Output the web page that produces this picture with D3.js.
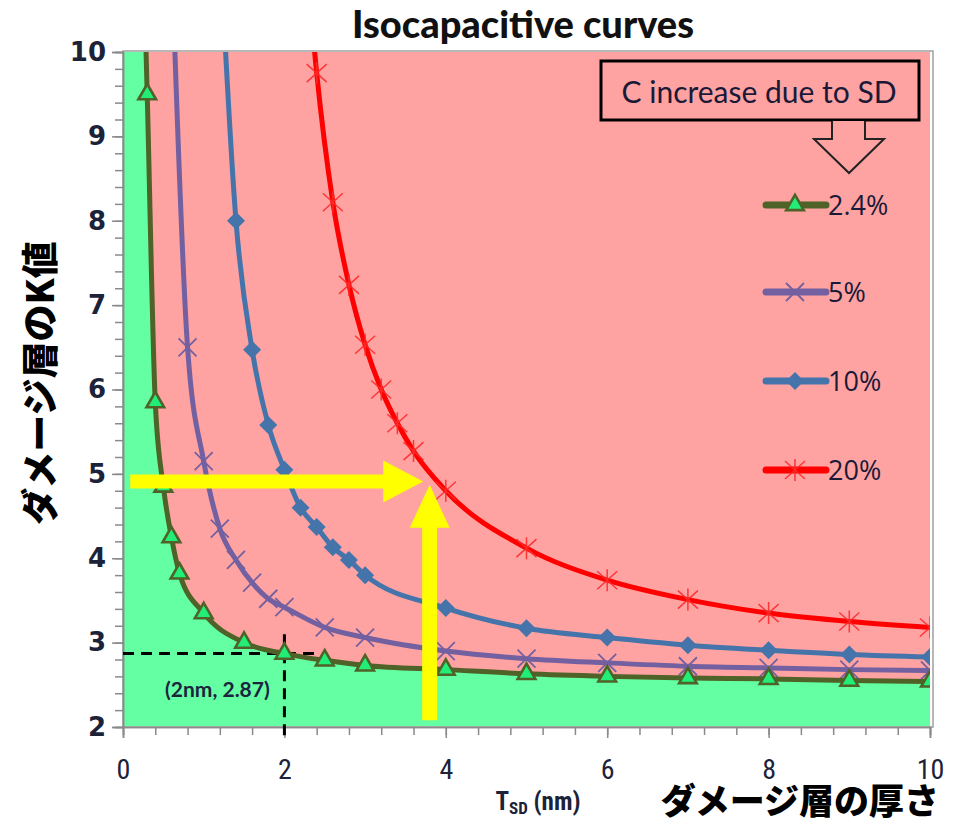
<!DOCTYPE html>
<html><head><meta charset="utf-8">
<script src="https://cdn.jsdelivr.net/npm/d3@7/dist/d3.min.js"></script>
<style>body{margin:0;background:#fff}svg{display:block}</style>
</head><body>
<svg id="c" width="966" height="825"></svg>
<script>
// ---- data ----
const tsd24 = [0.2,0.3,0.4,0.5,0.6,0.7,1,1.5,2,2.5,3,4,5,6,7,8,9,10];
const k24   = [13,9.5,5.85,4.85,4.25,3.82,3.35,3.0,2.87,2.79,2.73,2.68,2.63,2.6,2.58,2.57,2.55,2.54];
const tsd5  = [0.6,0.8,1,1.2,1.4,1.6,1.8,2,2.5,3,4,5,6,7,8,9,10];
const k5    = [11.2,6.5,5.15,4.35,3.98,3.71,3.52,3.42,3.18,3.06,2.9,2.81,2.76,2.72,2.7,2.68,2.67];
const tsd10 = [1.2,1.4,1.6,1.8,2,2.2,2.4,2.6,2.8,3,4,5,6,7,8,9,10];
const k10   = [11.3,8.0,6.47,5.58,5.05,4.6,4.37,4.13,3.98,3.8,3.41,3.17,3.06,2.97,2.91,2.86,2.83];
const tsd20 = [2.2,2.4,2.6,2.8,3,3.2,3.4,3.6,4,5,6,7,8,9,10];
const k20   = [12.0,9.75,8.22,7.24,6.53,6.0,5.6,5.27,4.8,4.12,3.74,3.51,3.35,3.25,3.18];
const seriesNames = ["2.4%","5%","10%","20%"];
const xTicks = [0,2,4,6,8,10];
const yTicks = [2,3,4,5,6,7,8,9,10];
const pointNote = {x:2, y:2.87, label:"(2nm, 2.87)"};
const arrowH = {x0:0.09, x1:3.72, y:4.91};
const arrowV = {x:3.8, y0:2.08, y1:4.87};

// ---- setup ----
const svg = d3.select("#c");
const X0=123, X1=930, Y0=727, Y1=52;
const x = d3.scaleLinear([0,10],[X0,X1]);
const y = d3.scaleLinear([2,10],[Y0,Y1]);

svg.append("defs").append("clipPath").attr("id","clip")
  .append("rect").attr("x",X0).attr("y",Y1).attr("width",X1-X0).attr("height",Y0-Y1);

const GREEN_BG="#64FFA2", PINK_BG="#FFA2A2";
svg.append("rect").attr("x",X0).attr("y",Y1).attr("width",X1-X0).attr("height",Y0-Y1-1).attr("fill",GREEN_BG);
const d24 = tsd24.map((t,i)=>[t,k24[i]]);
svg.append("path").attr("clip-path","url(#clip)")
  .datum(d24)
  .attr("fill",PINK_BG)
  .attr("d", d3.area().x(d=>x(d[0])).y0(y(10)).y1(d=>y(d[1])).curve(d3.curveMonotoneX));

svg.append("rect").attr("x",X0).attr("y",Y1-1).attr("width",X1-X0+3).attr("height",Y0-Y1+1)
  .attr("fill","none").attr("stroke","#a0a0a0").attr("stroke-width",1.5);

// axes
const tickColor="#8a8a8a";
const yMinor = svg.append("g").attr("transform",`translate(${X0},0)`)
  .call(d3.axisLeft(y).tickValues(d3.range(2,10.001,0.2)).tickSize(8).tickFormat(""));
const yMajor = svg.append("g").attr("transform",`translate(${X0},0)`)
  .call(d3.axisLeft(y).tickValues(yTicks).tickSize(11).tickPadding(6).tickFormat(d3.format("d")));
const xMinor = svg.append("g").attr("transform",`translate(0,${Y0})`)
  .call(d3.axisBottom(x).tickValues(d3.range(0,10.001,0.4)).tickSize(8).tickFormat(""));
const xMajor = svg.append("g").attr("transform",`translate(0,${Y0})`)
  .call(d3.axisBottom(x).tickValues(xTicks).tickSize(11).tickPadding(21).tickFormat(d3.format("d")));
[yMinor,yMajor,xMinor,xMajor].forEach(g=>{
  g.selectAll("path.domain").attr("stroke",tickColor).attr("stroke-width",1.5);
  g.selectAll(".tick line").attr("stroke",tickColor).attr("stroke-width",1.5);
});
yMajor.selectAll(".tick text").attr("font-family","DejaVu Sans").attr("font-weight","bold")
  .attr("font-size",26).attr("fill","#1c2238");
xMajor.selectAll(".tick text").attr("font-family","'Liberation Sans Narrow','Roboto Condensed',Roboto,sans-serif")
  .attr("font-size",28).attr("fill","#1c2238");

// dashed guide lines
svg.append("line").attr("x1",x(0)).attr("x2",x(2.4)).attr("y1",y(pointNote.y)).attr("y2",y(pointNote.y))
  .attr("stroke","#000").attr("stroke-width",3).attr("stroke-dasharray","11,7");
svg.append("line").attr("x1",x(pointNote.x)).attr("x2",x(pointNote.x)).attr("y1",y(3.1)).attr("y2",y(1.88))
  .attr("stroke","#000").attr("stroke-width",3).attr("stroke-dasharray","11,7");
svg.append("text").attr("x",x(1.17)).attr("y",y(2.36)).attr("text-anchor","middle")
  .attr("font-family","Lato").attr("font-weight","bold").attr("font-size",21).attr("fill","#1c2440")
  .text(pointNote.label);

// markers
function triangle(g,c){ g.append("path").attr("d",d3.symbol(d3.symbolTriangle,135)())
  .attr("fill","#22EE77").attr("stroke",c).attr("stroke-width",2.6); }
function cross(g,c){ g.append("path").attr("d","M-9,-9L9,9M-9,9L9,-9").attr("stroke",c).attr("stroke-width",1.8).attr("fill","none"); }
function diamond(g,c){ g.append("path").attr("d","M0,-9L9,0L0,9L-9,0Z").attr("fill",c); }
function star(g,c){ g.append("path").attr("d","M-10,-9L10,9M-10,9L10,-9M0,-11L0,11").attr("stroke","#ff2a2a").attr("stroke-width",1.5).attr("fill","none").attr("opacity",0.9); }

const series = [
  {name:seriesNames[0], t:tsd24, k:k24, color:"#4F6228", marker:triangle, mcolor:"#4F6228"},
  {name:seriesNames[1], t:tsd5,  k:k5,  color:"#7360A0", marker:cross,    mcolor:"#7360A0"},
  {name:seriesNames[2], t:tsd10, k:k10, color:"#4574AB", marker:diamond,  mcolor:"#4574AB"},
  {name:seriesNames[3], t:tsd20, k:k20, color:"#FF0000", marker:star,     mcolor:"#FF0000"},
];
const line = d3.line().x(d=>x(d[0])).y(d=>y(d[1])).curve(d3.curveMonotoneX);
const plot = svg.append("g").attr("clip-path","url(#clip)");
series.slice().reverse().forEach(s=>{
  const data = s.t.map((t,i)=>[t,s.k[i]]);
  plot.append("path").datum(data).attr("fill","none").attr("stroke",s.color)
    .attr("stroke-width",5).attr("stroke-linejoin","round").attr("d",line);
  data.forEach(d=>{
    const g = plot.append("g").attr("transform",`translate(${x(d[0])},${y(d[1])})`);
    s.marker(g,s.mcolor);
  });
});

// yellow arrows
const YEL="#FFFF00";
{
  const xa=x(arrowH.x0), xb=x(arrowH.x1), yy=y(arrowH.y);
  svg.append("path").attr("fill",YEL)
    .attr("d",`M${xa},${yy-7}L${xb-40},${yy-7}L${xb-40},${yy-21}L${xb},${yy}L${xb-40},${yy+21}L${xb-40},${yy+7}L${xa},${yy+7}Z`);
  const xx=x(arrowV.x), ya=y(arrowV.y0), yb=y(arrowV.y1);
  svg.append("path").attr("fill",YEL)
    .attr("d",`M${xx-7.5},${ya}L${xx-7.5},${yb+43}L${xx-20},${yb+43}L${xx},${yb}L${xx+20},${yb+43}L${xx+7.5},${yb+43}L${xx+7.5},${ya}Z`);
}

// legend
svg.append("rect").attr("x",601).attr("y",61).attr("width",318).attr("height",59)
  .attr("fill",PINK_BG).attr("stroke","#000").attr("stroke-width",3);
svg.append("text").attr("x",759).attr("y",103).attr("text-anchor","middle")
  .attr("font-family","Lato").attr("font-size",30).attr("fill","#1a1a38").text("C increase due to SD");
svg.append("path").attr("fill",PINK_BG).attr("stroke","#222").attr("stroke-width",2)
  .attr("d","M832,121L832,139L814,139L849,173L884,139L865,139L865,121");
const legY=[205,292,381,470];
series.forEach((s,i)=>{
  const ly=legY[i];
  svg.append("line").attr("x1",766).attr("x2",826).attr("y1",ly).attr("y2",ly)
    .attr("stroke",s.color).attr("stroke-width",7).attr("stroke-linecap","round");
  const g=svg.append("g").attr("transform",`translate(795,${ly})`);
  s.marker(g,s.mcolor);
  svg.append("text").attr("x",828).attr("y",ly+10).attr("font-family","'Open Sans'")
    .attr("font-size",27).attr("fill","#1a1a38").text(s.name);
});

// titles
svg.append("text").attr("x",523).attr("y",38).attr("text-anchor","middle")
  .attr("font-family","Lato").attr("font-weight","900").attr("font-size",38).attr("fill","#111").text("Isocapacitive curves");
const tl = svg.append("text").attr("x",538).attr("y",810).attr("text-anchor","middle")
  .attr("font-family","'Liberation Sans Narrow','Roboto Condensed',Roboto,sans-serif").attr("font-weight","bold").attr("font-size",25).attr("fill","#1c2238");
tl.append("tspan").text("T");
tl.append("tspan").attr("font-size",17).attr("dy",4).text("SD");
tl.append("tspan").attr("dy",-4).text(" (nm)");
svg.append("text").attr("x",800).attr("y",814).attr("text-anchor","middle")
  .attr("font-family","'Noto Sans CJK JP'").attr("font-weight","900").attr("font-size",35).attr("fill","#000").text("ダメージ層の厚さ");
svg.append("text").attr("transform","translate(54,383) rotate(-90)").attr("text-anchor","middle")
  .attr("font-family","'Noto Sans CJK JP'").attr("font-weight","900").attr("font-size",37).attr("fill","#000").text("ダメージ層のK値");
</script>
</body></html>
